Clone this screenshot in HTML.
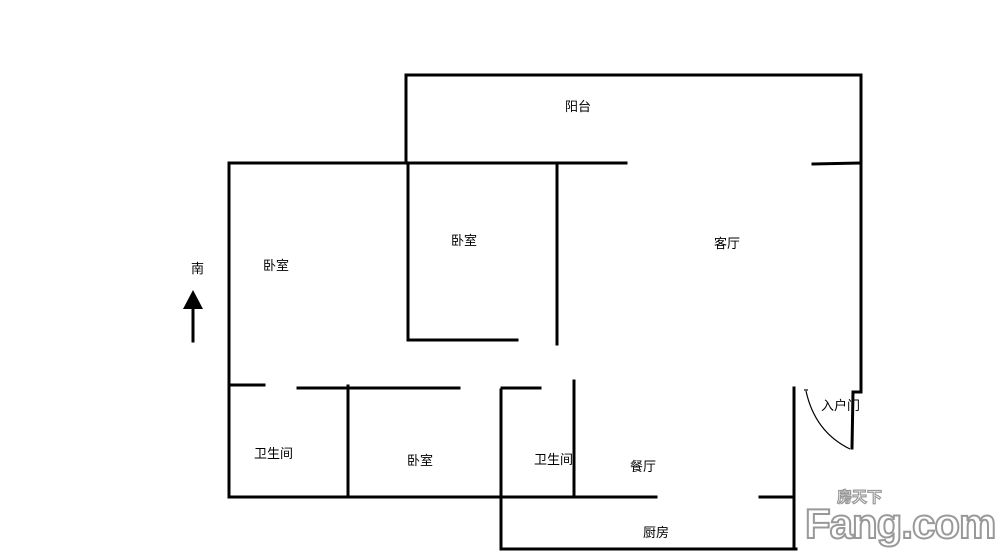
<!DOCTYPE html>
<html><head><meta charset="utf-8"><style>
html,body{margin:0;padding:0;background:#fff;width:1000px;height:557px;overflow:hidden}
svg{display:block}
text{font-family:"Liberation Sans","Noto Sans CJK SC",sans-serif;font-size:13px;fill:#000}
</style></head><body>
<svg width="1000" height="557" viewBox="0 0 1000 557">
<g stroke="#000" stroke-width="3" fill="none" stroke-linecap="square">
<line x1="406" y1="75" x2="861" y2="75"/>
<line x1="406" y1="75" x2="406" y2="163"/>
<line x1="861" y1="75" x2="861" y2="392"/>
<line x1="861" y1="392" x2="853" y2="392"/>
<line x1="853" y1="392" x2="852" y2="448"/>
<line x1="229" y1="163" x2="626" y2="163"/>
<line x1="813" y1="164" x2="859" y2="163"/>
<line x1="229" y1="163" x2="229" y2="497"/>
<line x1="408" y1="163" x2="408" y2="340"/>
<line x1="408" y1="340" x2="517" y2="340"/>
<line x1="557" y1="163" x2="557" y2="344"/>
<line x1="229" y1="385" x2="264" y2="385"/>
<line x1="298" y1="388" x2="459" y2="388"/>
<line x1="348" y1="386" x2="348" y2="497"/>
<line x1="502" y1="388" x2="540" y2="388"/>
<line x1="501" y1="390" x2="501" y2="548"/>
<line x1="574" y1="381" x2="574" y2="495"/>
<line x1="229" y1="497" x2="656" y2="497"/>
<line x1="760" y1="497" x2="793" y2="497"/>
<line x1="794" y1="388" x2="794" y2="549"/>
<line x1="501" y1="549" x2="796" y2="549"/>
<line x1="193" y1="305" x2="193" y2="341"/>
</g>
<polygon points="183,309 193,290 203,309" fill="#000"/>
<path d="M806,391 Q815,432 850,449" stroke="#000" stroke-width="1.2" fill="none"/>
<line x1="804" y1="390" x2="808" y2="390" stroke="#000" stroke-width="1.2"/>
<text x="565" y="111">阳台</text>
<text x="451" y="245">卧室</text>
<text x="714" y="248">客厅</text>
<text x="191" y="273">南</text>
<text x="263" y="270">卧室</text>
<text x="254" y="458">卫生间</text>
<text x="407" y="465">卧室</text>
<text x="534" y="464">卫生间</text>
<text x="630" y="471">餐厅</text>
<text x="643" y="537">厨房</text>
<text x="821" y="410">入户门</text>
<text x="837" y="502" style="font-size:15px;font-weight:bold;fill:#fff;stroke:#999;stroke-width:1.2">房天下</text>
<text x="805" y="538" style="font-size:42px;font-weight:bold;fill:#fff;stroke:#999;stroke-width:2;letter-spacing:-1px">Fang.com</text>
</svg>
</body></html>
